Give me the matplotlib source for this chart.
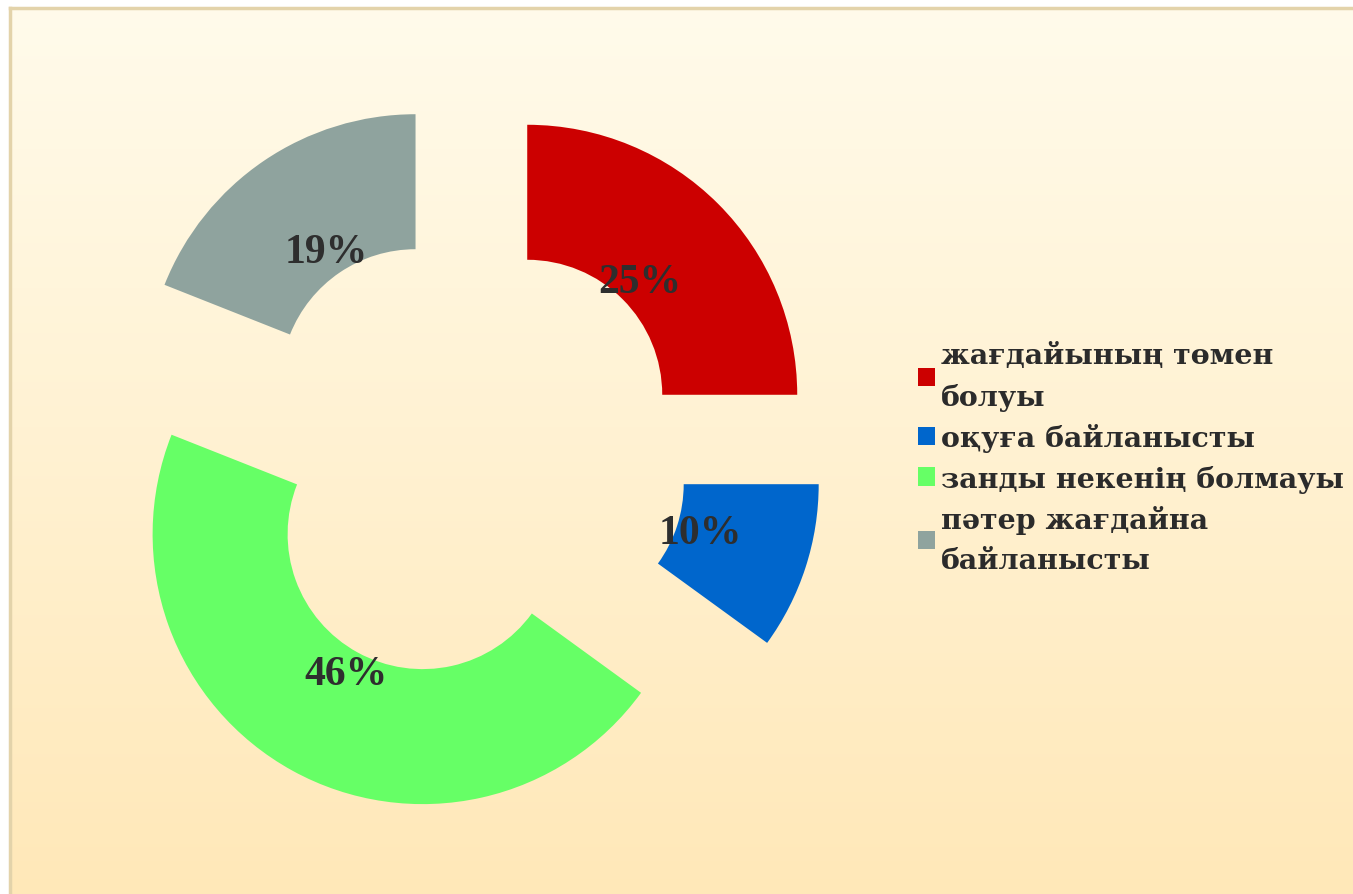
import numpy as np
import matplotlib.pyplot as plt
from matplotlib.colors import LinearSegmentedColormap
from matplotlib.patches import Patch

# Data
labels = ['жағдайының төмен\nболуы', 'оқуға байланысты',
          'занды некенің болмауы', 'пәтер жағдайна\nбайланысты']
values = [25, 10, 46, 19]
colors = ['#CC0000', '#0066CC', '#66FF66', '#8FA39E']

W, H = 1353, 895
fig = plt.figure(figsize=(W / 100, H / 100), dpi=100)
fig.patch.set_facecolor('white')
ax = fig.add_axes([0, 0, 1, 1])

# background gradient panel (pixel coordinates, y up)
grad = np.linspace(0, 1, 256).reshape(-1, 1)
cmap = LinearSegmentedColormap.from_list('bg', ['#FFE8B8', '#FFFBEB'])
ax.imshow(grad, cmap=cmap, origin='lower', aspect='auto',
          extent=(9, W + 2, -2, H - 8), zorder=0)
ax.plot([10, 10], [-2, H - 9], color='#E3D3AA', lw=2.5, zorder=1)
ax.plot([10, W + 2], [H - 9, H - 9], color='#E3D3AA', lw=2.5, zorder=1)

serif = ['Liberation Serif', 'DejaVu Serif']
wedges, _, autotexts = ax.pie(
    values, colors=colors, startangle=90, counterclock=False,
    radius=270, center=(465, 437), explode=[88] * 4,
    wedgeprops=dict(width=135, linewidth=0),
    autopct='%1.0f%%', pctdistance=0.59, frame=True,
    textprops=dict(fontsize=30, fontweight='bold', color='#2E2E2E',
                   family=serif))
for w in wedges:
    w.set_zorder(2)
for t in autotexts:
    t.set_zorder(3)

ax.set_xlim(0, W)
ax.set_ylim(0, H)
ax.axis('off')

handles = [Patch(facecolor=c, edgecolor='none') for c in colors]
leg = ax.legend(handles, labels, loc='center left',
                bbox_to_anchor=(918, 436), bbox_transform=ax.transData,
                frameon=False, handlelength=0.6, handleheight=0.6,
                handletextpad=0.22, labelspacing=0.44, borderpad=0,
                borderaxespad=0,
                prop=dict(family=['DejaVu Serif'], weight='bold', size=20.5))
for t in leg.get_texts():
    t.set_color('#2B2B2B')
    t.set_linespacing(1.6)

fig.savefig('out.png', dpi=100)
